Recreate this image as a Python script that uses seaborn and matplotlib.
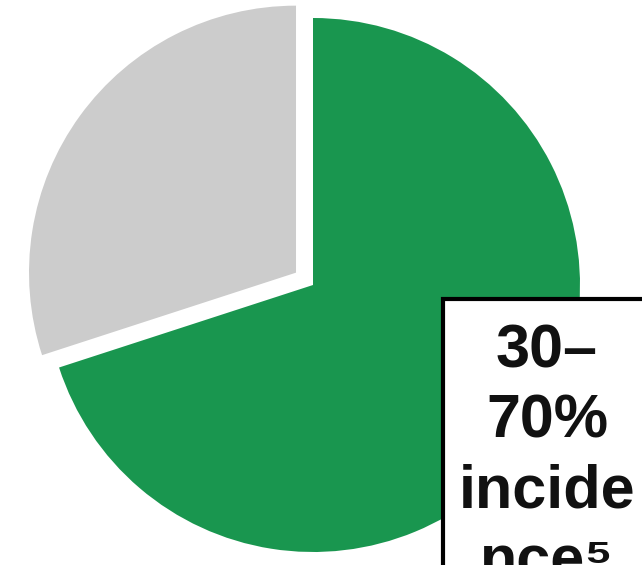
import matplotlib
matplotlib.use("Agg")
import matplotlib.pyplot as plt
import seaborn as sns
from matplotlib.patches import Rectangle

# Data
labels = ["Affected", "Not affected"]
values = [70, 30]
colors = ["#19964f", "#cccccc"]
box_lines = ["30–", "70%", "incide", "nce⁵"]

sns.set_theme(style="white")
plt.rcParams['font.family'] = ['Liberation Sans', 'DejaVu Sans']

W, H = 642, 565
fig = plt.figure(figsize=(W / 100, H / 100), dpi=100)
ax = fig.add_axes([0, 0, 1, 1])

ax.pie(values, colors=colors, startangle=90, counterclock=False,
       explode=[0, 21], radius=267, center=(313, H - 285),
       wedgeprops=dict(linewidth=0), frame=True)
ax.set_xlim(0, W)
ax.set_ylim(0, H)
ax.set_aspect('equal')
ax.axis('off')

# Text box
rect = Rectangle((443, -50), 300, (H - 299) + 50, facecolor='white',
                 edgecolor='black', linewidth=3, clip_on=False, zorder=5)
ax.add_patch(rect)

baselines = [368, 438, 508, 578]
for txt, yb in zip(box_lines, baselines):
    ax.text(547, H - yb, txt, ha='center', va='baseline', fontsize=44,
            fontweight='bold', color='#111111', zorder=6)

fig.savefig("out.png", dpi=100)
